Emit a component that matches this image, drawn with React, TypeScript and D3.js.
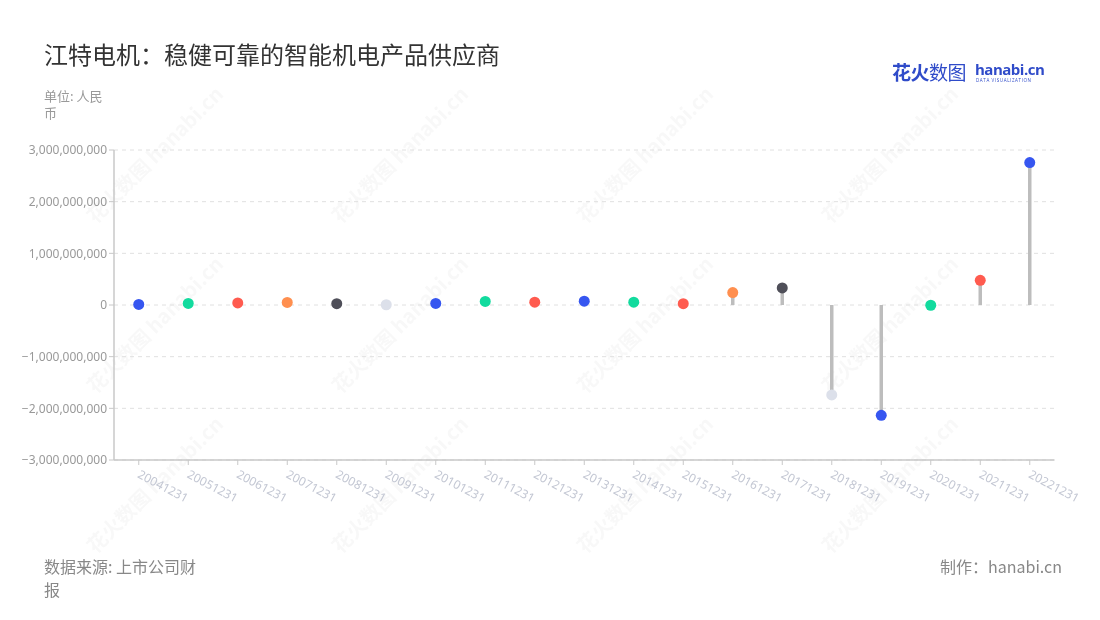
import React from "react";
import * as d3 from "d3";

const categories = ["20041231","20051231","20061231","20071231","20081231","20091231","20101231","20111231","20121231","20131231","20141231","20151231","20161231","20171231","20181231","20191231","20201231","20211231","20221231"];
const values = [10e6, 30e6, 40e6, 50e6, 25e6, 5e6, 30e6, 70e6, 55e6, 75e6, 55e6, 25e6, 240e6, 330e6, -1740e6, -2135e6, -5e6, 478e6, 2756e6];
const dotColors = ["#3656F0","#12DB9E","#FF5B4F","#FF8F4F","#4F4F59","#DCE0EA","#3656F0","#12DB9E","#FF5B4F","#3656F0","#12DB9E","#FF5B4F","#FF8F4F","#4F4F59","#DCE0EA","#3656F0","#12DB9E","#FF5B4F","#3656F0"];
const yTicks = [-3e9, -2e9, -1e9, 0, 1e9, 2e9, 3e9];

const FONT = "'Noto Sans CJK SC', 'Noto Sans', sans-serif";

export default function App() {
  const W = 1100, H = 620;
  const left = 114, right = 1054.5, top = 150, bottom = 460;
  const x = d3.scaleBand<string>().domain(categories).range([left, right]);
  const y = d3.scaleLinear().domain([-3e9, 3e9]).range([bottom, top]);
  const fmt = d3.format(",");
  const cx = (c: string) => (x(c) as number) + x.bandwidth() / 2;

  const wmX = [160, 405, 650, 895];
  const wmY = [160, 330, 490];

  return (
    <svg width={W} height={H} style={{ position: "absolute", left: 0, top: 0, fontFamily: FONT }}>
      <rect width={W} height={H} fill="#fff" />
      {/* watermarks */}
      <g opacity={0.035}>
        {wmX.map((wx) => wmY.map((wy) => (
          <text key={wx + "-" + wy} x={wx} y={wy} transform={`rotate(-45 ${wx} ${wy})`} fontSize={20} fontWeight={700} fill="#333" textAnchor="middle">花火数图 hanabi.cn</text>
        )))}
      </g>
      {/* title */}
      <text x={44} y={64} fontSize={24} fill="#333">江特电机：稳健可靠的智能机电产品供应商</text>
      <text x={44} y={101} fontSize={13} fill="#999">单位: 人民</text>
      <text x={44} y={118} fontSize={13} fill="#999">币</text>
      {/* logo */}
      <text x={892} y={80} fontSize={19} fontWeight={700} fill="#2F4BC9" letterSpacing={-0.5}>花火<tspan fontWeight={400}>数图</tspan></text>
      <text x={975} y={75} fontSize={15} fontWeight={700} fill="#2F4BC9" fontFamily="'Open Sans', sans-serif" letterSpacing={-0.5}>hanabi.cn</text>
      <text x={976} y={82} fontSize={4.5} fill="#2F4BC9" fontFamily="'Open Sans', sans-serif" letterSpacing={0.6}>DATA VISUALIZATION</text>
      {/* grid */}
      {yTicks.map((t) => (
        <g key={t}>
          <line x1={left} x2={right} y1={y(t)} y2={y(t)} stroke="#E0E0E0" strokeDasharray="4,4" />
          <line x1={left - 5} x2={left} y1={y(t)} y2={y(t)} stroke="#C8C8C8" />
          <text x={left - 7} y={y(t)} dy="0.35em" textAnchor="end" fontSize={12} fill="#999" fontFamily="'Noto Sans', sans-serif">{fmt(t)}</text>
        </g>
      ))}
      {/* axes */}
      <line x1={left} x2={left} y1={top} y2={bottom} stroke="#C8C8C8" strokeWidth={1.5} />
      <line x1={left} x2={right} y1={bottom} y2={bottom} stroke="#C8C8C8" strokeWidth={1.5} />
      {categories.map((c) => (
        <g key={c}>
          <line x1={cx(c)} x2={cx(c)} y1={bottom} y2={bottom + 5} stroke="#C8C8C8" />
          <text x={cx(c) - 2} y={bottom + 17} transform={`rotate(28 ${cx(c) - 2} ${bottom + 17})`} fontSize={12} fill="#C3C7D3" fontFamily="'Noto Sans', sans-serif">{c}</text>
        </g>
      ))}
      {/* stems */}
      {categories.map((c, i) => (
        <line key={c} x1={cx(c)} x2={cx(c)} y1={y(0)} y2={y(values[i])} stroke="#BDBDBD" strokeWidth={3.5} />
      ))}
      {categories.map((c, i) => (
        <circle key={c} cx={cx(c)} cy={y(values[i])} r={5.5} fill={dotColors[i]} />
      ))}
      {/* footer */}
      <text x={44} y={573} fontSize={16} fill="#888">数据来源: 上市公司财</text>
      <text x={44} y={596} fontSize={16} fill="#888">报</text>
      <text x={1062} y={573} fontSize={16} fill="#888" textAnchor="end">制作：hanabi.cn</text>
    </svg>
  );
}
